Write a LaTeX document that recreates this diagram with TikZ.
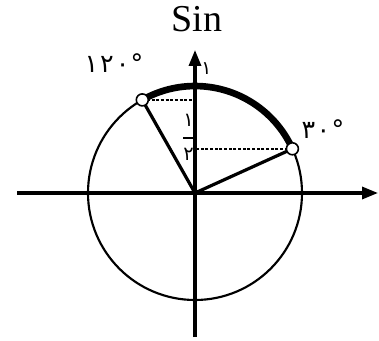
\documentclass[tikz,border=0pt]{standalone}
\usepackage{amsmath}
\usepackage{fontspec}
\setmainfont{Liberation Serif}
\newfontfamily\arabicfont[Script=Arabic]{DejaVu Sans}
\usetikzlibrary{arrows.meta}
\begin{document}
\begin{tikzpicture}[x=0.75pt,y=0.75pt,
  axis/.style={line width=2.4pt,-{Triangle[length=12pt,width=9pt]}},
  radius line/.style={line width=2.4pt},
  guide/.style={line width=1.4pt,dash pattern=on 2.2pt off 1.3pt},
  pointmark/.style={circle,draw,fill=white,inner sep=0pt,minimum size=9pt,line width=1.2pt},
  lbl/.style={inner sep=0pt,font=\arabicfont\fontsize{19pt}{21pt}\selectfont}]
\useasboundingbox (0,0) rectangle (379,340);
\coordinate (O) at (195,147);
\coordinate (L) at (17,147);
\coordinate (R) at (378,147);
\coordinate (B) at (195,3);
\coordinate (T) at (195,290);
\coordinate (P120) at (142.3,240.1);
\coordinate (P30) at (292.4,191.2);
% circle
\draw[line width=1.6pt] (O) circle[radius=80.25pt];
% axes
\draw[axis] (L) -- (R);
\draw[axis] (B) -- (T);
% thick arc
\draw[line width=5pt] (P120) arc[start angle=119.5,end angle=24.4,radius=80.25pt];
% radii
\draw[radius line] (O) -- (P120);
\draw[radius line] (O) -- (P30);
% dashed guides
\draw[guide] (P120) -- (P120 -| O);
\draw[guide] (P30) -- (P30 -| O);
% point marks
\node[pointmark] (M120) at (P120) {};
\node[pointmark] (M30) at (P30) {};
% labels
\node[anchor=base,inner sep=0pt,font=\fontsize{28.5pt}{30pt}\selectfont] (sin) at (197,308.5) {Sin};
\node[lbl] (a120) at (114,277) {۱\kern1.5pt۲\kern1.5pt۰\kern1pt°};
\node[lbl] (a30) at (323,211) {۳\kern1pt۰\kern1pt°};
\node[inner sep=0pt,font=\arabicfont\fontsize{14pt}{16pt}\selectfont] (one) at (206.5,271) {۱};
\node[inner sep=0pt,font=\arabicfont\fontsize{14.5pt}{16pt}\selectfont] (half) at (188.5,203)
  {$\genfrac{}{}{1.3pt}{0}{\raisebox{3pt}{۱}}{\raisebox{-3pt}{۲}}$};
\end{tikzpicture}
\end{document}
